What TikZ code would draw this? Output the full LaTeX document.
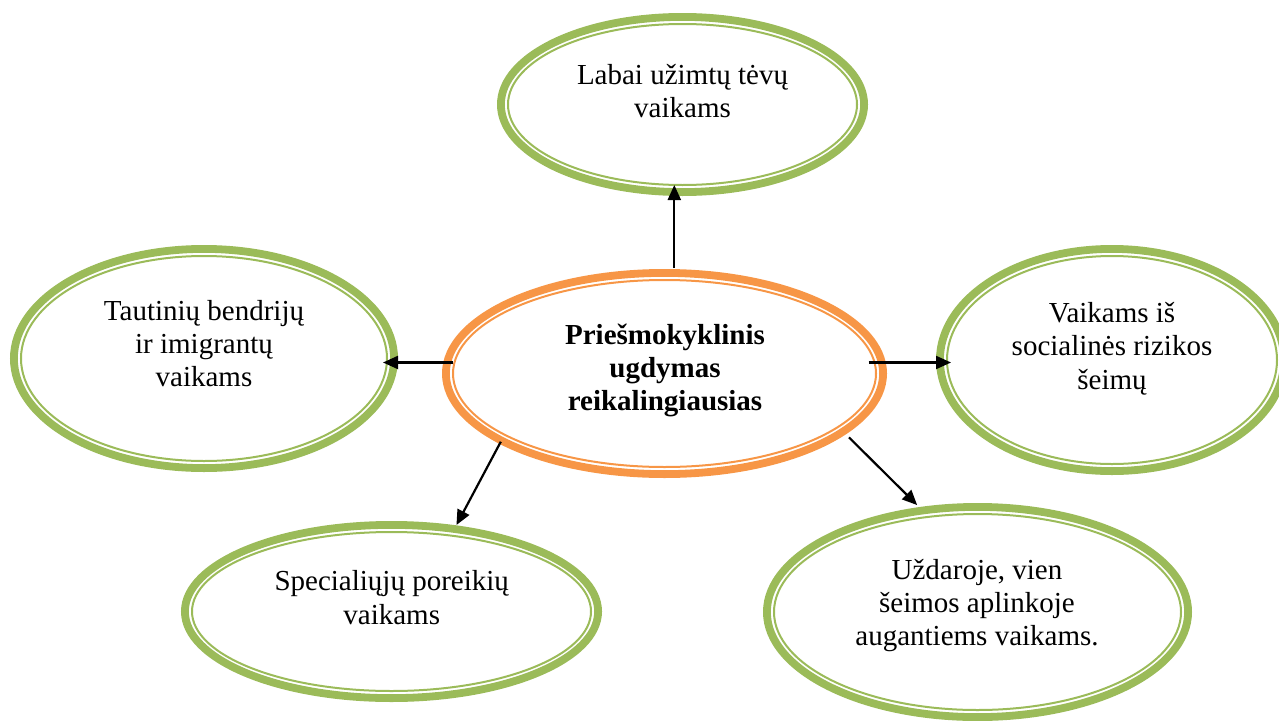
\documentclass[tikz,border=0pt]{standalone}
\usepackage{fontspec}
\setmainfont{Liberation Serif}
\usetikzlibrary{shapes.geometric,arrows.meta,calc}
\definecolor{bgreen}{HTML}{9BBB59}
\definecolor{borange}{HTML}{F79646}
\begin{document}
\begin{tikzpicture}[x=1pt,y=-1pt,
  bubble/.style={ellipse, draw, line width=2pt, inner sep=0pt, outer sep=0pt},
  band/.style={line width=7.8pt},
  txt/.style={align=center, font=\fontsize{29}{33.4}\selectfont, inner sep=0pt},
  arr/.style={line width=2.2pt, -{Triangle[length=15pt,width=13pt]}}]
\useasboundingbox (0,0) rectangle (1279,720);
\foreach \n/\x/\y/\a/\b/\col in {top/682.5/104.5/185.5/91.5/bgreen,
    ctr/664.5/373.5/222.5/104.5/borange,
    L/204/358.5/194/113.5/bgreen,
    R/1112/360/176/115/bgreen,
    BL/391.5/611.5/210.5/90.5/bgreen,
    BR/977.5/612/214.5/109/bgreen}{
  \node[bubble, draw=\col, minimum width={2*\a-22}, minimum height={2*\b-22}] (\n) at (\x,\y) {};
  \draw[band, \col] (\n.center) ellipse [x radius={\a-3.9}, y radius={\b-3.9}];
}
\node[txt] (topT) at (682.5,91) {Labai užimtų tėvų\\vaikams};
\node[txt, font=\fontsize{29}{33.4}\selectfont\bfseries] (ctrT) at (665,370.5) {Priešmokyklinis\\ugdymas\\reikalingiausias};
\node[txt] (LT) at (204,343.5) {Tautinių bendrijų\\ir imigrantų\\vaikams};
\node[txt] (RT) at (1112,348.75) {Vaikams iš\\socialinės rizikos\\šeimų};
\node[txt] (BLT) at (391.7,597.5) {Specialiųjų poreikių\\vaikams};
\node[txt] (BRT) at (977,605.5) {Uždaroje, vien\\šeimos aplinkoje\\augantiems vaikams.};
\draw[arr] ($(ctr.84)+(0,-12)$) -- (ctr.84 |- top.south);
\draw[arr] ($(ctr.177)+(-1,0)$) -- ($(ctr.177 -| L.east)+(-4,0)$);
\draw[arr] ($(ctr.3)+(-6,0)$) -- ($(ctr.3 -| R.west)+(4,0)$);
\draw[arr, shorten >=12pt] ($(ctr.201.6)+(-4,6.9)$) -- (BL.52.4);
\draw[arr, shorten >=16.7pt] ($(ctr.343.25)+(10.5,10.7)$) -- (BR.117.2);
\end{tikzpicture}
\end{document}
